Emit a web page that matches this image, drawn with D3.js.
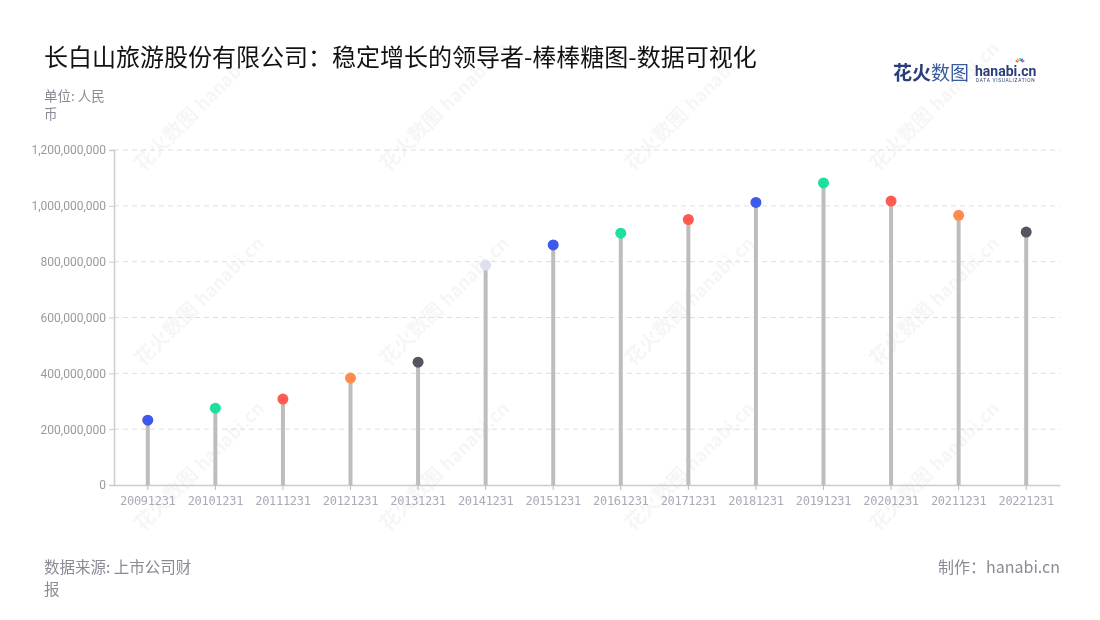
<!DOCTYPE html>
<html><head><meta charset="utf-8">
<script src="https://cdn.jsdelivr.net/npm/d3@7/dist/d3.min.js"></script>
<style>body{margin:0;background:#fff;}svg{display:block;font-family:"Noto Sans CJK SC","Noto Sans",sans-serif;}</style>
</head><body><svg id="c" width="1100" height="620"></svg>
<script>
const categories = ["20091231","20101231","20111231","20121231","20131231","20141231","20151231","20161231","20171231","20181231","20191231","20201231","20211231","20221231"];
const values = [232000000,275000000,308000000,383000000,440000000,788000000,860000000,902000000,951000000,1012000000,1082000000,1017000000,966000000,906000000];
const dotColors = ["#3d59ec","#1ddf9e","#ff5b52","#ff8c4f","#55555f","#dde1ee","#3d59ec","#1ddf9e","#ff5b52","#3d59ec","#1ddf9e","#ff5b52","#ff8c4f","#55555f"];
const yTicks = [0,200000000,400000000,600000000,800000000,1000000000,1200000000];

const svg = d3.select("#c");
const m = {l:114, r:1060, t:150, b:485};

// watermarks
const wm = svg.append("g").attr("opacity",0.045);
const wmX = [150,395,640,885], wmY = [165,360,525];
wmY.forEach((yy,j)=>wmX.forEach((xx,i)=>{
  const g = wm.append("g").attr("transform",`translate(${xx},${yy}) rotate(-45)`);
  g.append("text").attr("x",-10).attr("y",0).attr("font-size",20).attr("font-weight","bold").attr("fill","#333").text("花火数图");
  g.append("text").attr("x",75).attr("y",0).attr("font-size",18).attr("font-weight","bold").attr("fill","#333").text("hanabi.cn");
}));

const x = d3.scaleBand().domain(categories).range([m.l, m.r]);
const y = d3.scaleLinear().domain([0,1200000000]).range([m.b, m.t]);

// grid
svg.append("g").selectAll("line").data(yTicks.slice(1)).join("line")
  .attr("x1",m.l).attr("x2",m.r).attr("y1",d=>y(d)).attr("y2",d=>y(d))
  .attr("stroke","#dedede").attr("stroke-dasharray","5,4");

// y axis
const ya = svg.append("g").attr("transform",`translate(${m.l},0)`)
  .call(d3.axisLeft(y).tickValues(yTicks).tickSize(5).tickPadding(3).tickFormat(d3.format(",")));
ya.select(".domain").attr("stroke","#cccccc").attr("stroke-width",1.5);
ya.selectAll(".tick line").attr("stroke","#cccccc");
ya.selectAll("text").attr("fill","#999").attr("font-size",12).attr("font-family","Roboto, 'Noto Sans', sans-serif");

// x axis
const xa = svg.append("g").attr("transform",`translate(0,${m.b})`)
  .call(d3.axisBottom(x).tickSize(5).tickPadding(6).tickSizeOuter(0));
xa.select(".domain").attr("stroke","#cccccc").attr("stroke-width",1.5);
xa.selectAll(".tick line").attr("stroke","#bbbbbb");
xa.selectAll("text").attr("fill","#a8aab8").attr("font-size",12).attr("font-family","'DejaVu Sans Mono', monospace").attr("letter-spacing","-0.3");

// stems
const data = categories.map((c,i)=>({c, v:values[i], col:dotColors[i]}));
svg.append("g").selectAll("line").data(data).join("line")
  .attr("x1",d=>x(d.c)+x.bandwidth()/2).attr("x2",d=>x(d.c)+x.bandwidth()/2)
  .attr("y1",y(0)).attr("y2",d=>y(d.v))
  .attr("stroke","#bdbdbd").attr("stroke-width",4);
svg.append("g").selectAll("circle").data(data).join("circle")
  .attr("cx",d=>x(d.c)+x.bandwidth()/2).attr("cy",d=>y(d.v)).attr("r",5.5)
  .attr("fill",d=>d.col);

// title
svg.append("text").attr("x",44).attr("y",66).attr("font-size",24).attr("fill","#111")
  .text("长白山旅游股份有限公司：稳定增长的领导者-棒棒糖图-数据可视化");
svg.append("text").attr("x",44).attr("y",101).attr("font-size",13.5).attr("fill","#8a8a96").text("单位: 人民");
svg.append("text").attr("x",44).attr("y",119).attr("font-size",13.5).attr("fill","#8a8a96").text("币");

// footer
svg.append("text").attr("x",44).attr("y",573).attr("font-size",15.5).attr("fill","#8a8a96").text("数据来源: 上市公司财");
svg.append("text").attr("x",44).attr("y",595).attr("font-size",15.5).attr("fill","#8a8a96").text("报");
svg.append("text").attr("x",1060).attr("y",573).attr("text-anchor","end").attr("font-size",16).attr("fill","#8a8a96").text("制作：hanabi.cn");

// logo
const lg = svg.append("g");
lg.append("text").attr("x",893).attr("y",80).attr("font-size",19).attr("font-weight","bold").attr("fill","#2a3f7a").text("花火");
lg.append("text").attr("x",931).attr("y",80).attr("font-size",19).attr("fill","#3a5aa0").text("数图");
lg.append("text").attr("x",975).attr("y",76).attr("font-size",14).attr("font-weight","bold").attr("fill","#2a3f7a").attr("font-family","Roboto, sans-serif").text("hanabi.cn");
lg.append("text").attr("x",976).attr("y",82).attr("font-size",4.8).attr("fill","#2a3f7a").attr("letter-spacing","0.7").attr("font-family","Roboto, sans-serif").text("DATA VISUALIZATION");
const spark = ["#ff5b52","#ffb84f","#1ddf9e","#3d59ec","#b05ce0"];
spark.forEach((c,i)=>{const a = -150 + i*30; lg.append("line").attr("x1",1020+Math.cos(a*Math.PI/180)*2).attr("y1",63+Math.sin(a*Math.PI/180)*2).attr("x2",1020+Math.cos(a*Math.PI/180)*5).attr("y2",63+Math.sin(a*Math.PI/180)*5).attr("stroke",c).attr("stroke-width",1.5);});
</script></body></html>
